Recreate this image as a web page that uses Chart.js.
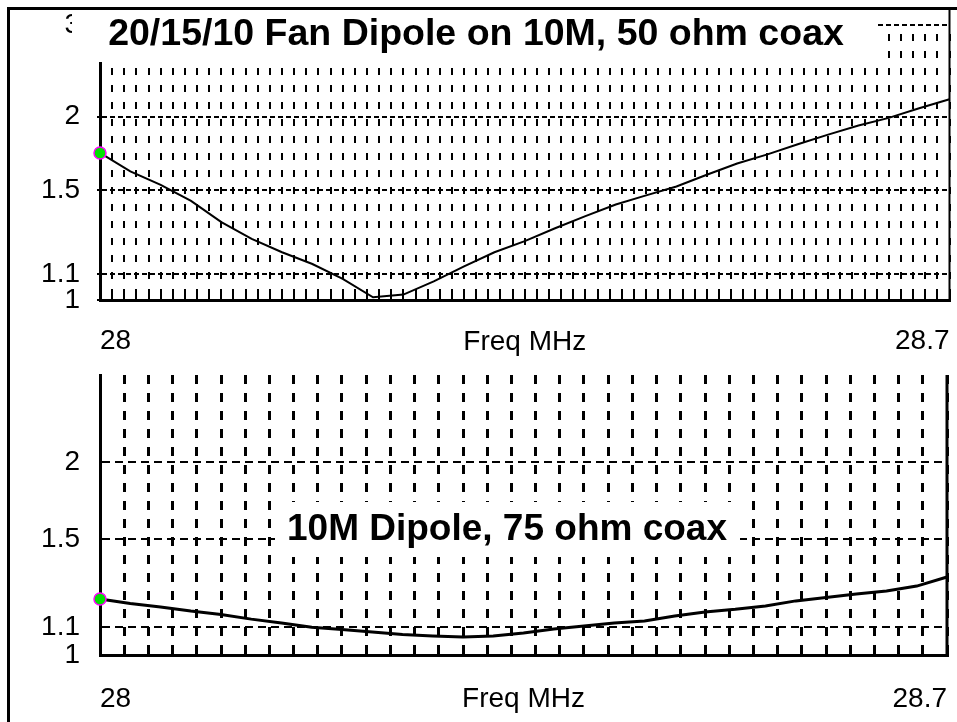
<!DOCTYPE html>
<html>
<head>
<meta charset="utf-8">
<title>SWR sweep 28 - 28.7 MHz</title>
<script src="https://cdn.jsdelivr.net/npm/chart.js@4.4.1/dist/chart.umd.min.js"></script>
<style>
  body { margin: 0; background: #fff; }
  #wrap { position: relative; width: 957px; height: 722px; overflow: hidden; }
  #frame { position: absolute; left: 7px; top: 7px; width: 960px; height: 730px;
           border-left: 3px solid #000; border-top: 3px solid #000; }
  canvas { position: absolute; left: 0; }
  #top { top: 0; }
  #bottom { top: 361px; }
</style>
</head>
<body>
<div id="wrap">
  <div id="frame"></div>
  <canvas id="top" width="957" height="361"></canvas>
  <canvas id="bottom" width="957" height="361"></canvas>
</div>
<script>
// sweep frequencies, MHz
const freqs = [28.000, 28.025, 28.050, 28.075, 28.100, 28.125, 28.150, 28.175, 28.200, 28.225,
               28.250, 28.275, 28.300, 28.325, 28.350, 28.375, 28.400, 28.425, 28.450, 28.475,
               28.500, 28.525, 28.550, 28.575, 28.600, 28.625, 28.650, 28.675, 28.700];
// SWR readings
const swrFan    = [1.73, 1.61, 1.53, 1.44, 1.33, 1.25, 1.19, 1.14, 1.08, 1.01,
                   1.02, 1.07, 1.13, 1.19, 1.24, 1.30, 1.36, 1.42, 1.47, 1.52,
                   1.59, 1.66, 1.72, 1.79, 1.86, 1.93, 1.99, 2.07, 2.15];
const swrDipole = [1.214, 1.195, 1.181, 1.164, 1.150, 1.132, 1.117, 1.101, 1.092, 1.083,
                   1.073, 1.068, 1.064, 1.068, 1.079, 1.094, 1.105, 1.117, 1.125, 1.144,
                   1.160, 1.171, 1.185, 1.206, 1.220, 1.235, 1.248, 1.270, 1.311];

const yTicksFan = [1, 1.1, 1.5, 2, 3];
const yTicksDipole = [1, 1.1, 1.5, 2];
const xTickLabels = ['28', '28.7'];
const xTitle = 'Freq MHz';
const titleFan = '20/15/10 Fan Dipole on 10M, 50 ohm coax';
const titleDipole = '10M Dipole, 75 ohm coax';

// the analyzer plots SWR on a reflection coefficient scale
function rho(swr) {
  return (swr - 1) / (swr + 1);
}

const tickFont = { family: '"Liberation Sans", Arial, sans-serif', size: 28 };

// white title box drawn over the grid, plus the right edge of the plot
const overlay = {
  id: 'overlay',
  afterDraw(chart, args, o) {
    const { ctx, chartArea: a } = chart;
    ctx.save();
    ctx.strokeStyle = '#000';
    ctx.lineWidth = o.frameWidth;
    ctx.beginPath();
    ctx.moveTo(a.right, o.frameTop == null ? a.top : o.frameTop);
    ctx.lineTo(a.right, a.bottom + 1);
    ctx.stroke();

    ctx.fillStyle = '#fff';
    ctx.fillRect(o.box[0], o.box[1], o.box[2], o.box[3]);
    ctx.fillStyle = '#000';
    ctx.font = 'bold ' + o.size + 'px "Liberation Sans", Arial, sans-serif';
    ctx.textAlign = 'center';
    ctx.textBaseline = 'middle';
    ctx.fillText(o.text, o.tx, o.ty);
    ctx.restore();
  }
};

function drawSwrChart(id, swr, yTicks, c) {
  new Chart(document.getElementById(id), {
    type: 'line',
    data: {
      datasets: [{
        data: freqs.map((f, i) => ({ x: f, y: rho(swr[i]) })),
        borderColor: '#000',
        borderWidth: c.lineWidth,
        tension: 0,
        clip: false,
        pointRadius: ctx => ctx.dataIndex === 0 ? 6 : 0,
        pointBackgroundColor: '#00e000',
        pointBorderColor: '#ff00ff',
        pointBorderWidth: 1.5
      }]
    },
    options: {
      responsive: false,
      animation: false,
      devicePixelRatio: 1,
      layout: { padding: c.padding },
      plugins: {
        legend: { display: false },
        tooltip: { enabled: false },
        overlay: c.overlay
      },
      scales: {
        x: {
          type: 'linear',
          min: 28,
          max: 28.7,
          afterFit: s => { s.height = c.xAxisHeight; s.paddingLeft = 0; s.paddingRight = 0; },
          ticks: {
            stepSize: c.xStep,
            maxTicksLimit: 1000,
            autoSkip: false,
            maxRotation: 0,
            align: 'inner',
            padding: c.labelPad,
            color: '#000',
            font: tickFont,
            callback: (v, i, t) => i === 0 ? xTickLabels[0] : (i === t.length - 1 ? xTickLabels[1] : '')
          },
          grid: {
            color: '#000',
            lineWidth: c.vGrid.width,
            tickLength: c.xTickLen,
            tickWidth: c.vGrid.width,
            tickColor: '#000',
            tickBorderDash: []
          },
          border: { color: '#000', width: 3, dash: c.vGrid.dash, dashOffset: c.vGrid.offset },
          title: { display: true, text: xTitle, color: '#000', font: tickFont, padding: { top: 0, bottom: c.titlePad } }
        },
        y: {
          type: 'linear',
          min: 0,
          max: rho(c.yMax),
          afterBuildTicks: s => { s.ticks = yTicks.map(v => ({ value: rho(v) })); },
          afterFit: s => { s.width = 100; s.paddingTop = 0; s.paddingBottom = 0; },
          ticks: {
            autoSkip: false,
            padding: 20 - c.yTickLen,
            color: '#000',
            font: tickFont,
            callback: (v, i) => String(yTicks[i])
          },
          grid: {
            color: '#000',
            lineWidth: 2,
            tickLength: c.yTickLen,
            tickWidth: 2,
            tickColor: '#000',
            tickBorderDash: []
          },
          border: { color: '#000', width: 3, dash: c.hGrid.dash }
        }
      }
    },
    plugins: [overlay]
  });
}

drawSwrChart('top', swrFan, yTicksFan, {
  yMax: 3,
  padding: { top: 25, right: 2, left: 0, bottom: 0 },
  xStep: 0.01,
  xAxisHeight: 61,
  labelPad: 29,
  titlePad: 2,
  xTickLen: -5,
  yTickLen: 3,
  lineWidth: 2,
  vGrid: { width: 2, dash: [7, 10], offset: 8 },
  hGrid: { dash: [5, 3] },
  overlay: { frameTop: 7, frameWidth: 2, box: [72, 10, 806, 52], text: titleFan, size: 37.5, tx: 476, ty: 35 }
});

drawSwrChart('bottom', swrDipole, yTicksDipole, {
  yMax: 2.87,
  padding: { top: 14, right: 10, left: 0, bottom: 0 },
  xStep: 0.02,
  xAxisHeight: 67,
  labelPad: 34,
  titlePad: 6,
  xTickLen: -7,
  yTickLen: 0,
  lineWidth: 3,
  vGrid: { width: 3, dash: [9, 9], offset: 0 },
  hGrid: { dash: [8, 5] },
  overlay: { frameWidth: 3, box: [275, 141, 465, 55], text: titleDipole, size: 37, tx: 507, ty: 169 }
});
</script>
</body>
</html>
